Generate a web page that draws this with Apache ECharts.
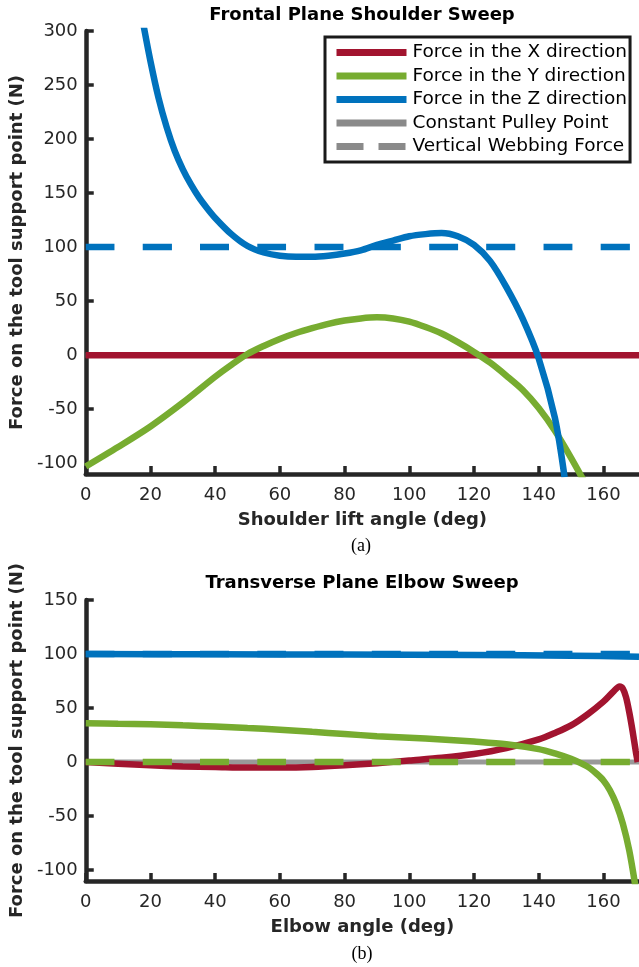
<!DOCTYPE html>
<html>
<head>
<meta charset="utf-8">
<script src="https://cdn.jsdelivr.net/npm/echarts@6/dist/echarts.min.js"></script>
<style>
  html, body { margin: 0; padding: 0; background: #fff; }
  #chart { width: 639px; height: 967px; }
</style>
</head>
<body>
<div id="chart"></div>
<script>
// ---- data ----
// (a) frontal plane shoulder sweep
const shoulderXAngle = [0, 171];
const shoulderXForce = [0, 0];

const shoulderYAngle = [0, 10, 20, 30, 40, 45, 50, 55, 60, 65, 70, 75, 80, 85, 90, 95, 100, 105, 110, 115, 120, 125, 130, 135, 140, 145, 150, 155];
const shoulderYForce = [-103, -85, -66, -44, -20, -9, 1, 8.5, 15, 20.5, 25, 29, 32, 34, 35, 34, 31, 26, 20, 12, 3, -7, -19, -32, -49, -70, -95, -122];

const shoulderZAngle = [17.5, 20, 22.5, 25, 27.5, 30, 32.5, 35, 37.5, 40, 45, 50, 55, 60, 65, 70, 75, 80, 85, 90, 95, 100, 105, 110, 115, 120, 125, 130, 135, 140, 145, 148];
const shoulderZForce = [311, 272, 238, 211, 189, 172, 158, 146, 136, 127, 112, 101, 95, 92, 91, 91, 92, 94, 97, 102, 106, 110, 112, 113, 110, 102, 87, 63, 34, -3, -58, -113];

const shoulderPulleyAngle = [0, 171];
const shoulderPulleyForce = [0, 0];
const shoulderWebbingAngle = [0, 171];
const shoulderWebbingZ = [100, 100];

// (b) transverse plane elbow sweep
const elbowXAngle = [0, 10, 20, 30, 40, 50, 60, 70, 80, 90, 100, 110, 120, 130, 140, 145, 150, 155, 160, 163, 165, 166, 167, 168, 169, 170, 170.6];
const elbowXForce = [0, -1.5, -3, -4, -4.5, -5, -5, -4.5, -3, -1, 1.5, 4, 7.5, 13, 21, 27, 34, 44, 56, 65, 70, 68, 60, 46, 29, 10, 0];

const elbowYAngle = [0, 10, 20, 30, 40, 50, 60, 70, 80, 90, 100, 110, 120, 130, 140, 145, 150, 153, 156, 158, 160, 162, 164, 166, 168, 170];
const elbowYForce = [36, 35.5, 35, 34, 33, 31.5, 30, 28, 26, 24, 22.5, 21, 19, 16.5, 12, 8, 3, -1, -6, -11, -17, -26, -39, -57, -82, -117];

const elbowZAngle = [0, 40, 80, 120, 150, 171];
const elbowZForce = [100, 99.8, 99.5, 99, 98.5, 97.5];

const elbowPulleyAngle = [0, 171];
const elbowPulleyForce = [0, 0];
const elbowWebbingAngle = [0, 171];
const elbowWebbingY = [0, 0];
const elbowWebbingZ = [100, 100];

const xTicks = [0, 20, 40, 60, 80, 100, 120, 140, 160];
const shoulderYTicks = [-100, -50, 0, 50, 100, 150, 200, 250, 300];
const elbowYTicks = [-100, -50, 0, 50, 100, 150];

const RED = '#A2142F', GREEN = '#77AC30', BLUE = '#0072BD', GRAY = '#999999';
const LEGEND_GRAY = '#8a8a8a';
const AXIS = '#262626';
const DASH = [29, 28.2];
const LW = 6.5;

const zip = (xs, ys) => xs.map((x, i) => [x, ys[i]]);

const chartDom = document.getElementById('chart');
const chart = echarts.init(chartDom);

function xAxisFor(gridIndex, name) {
  return {
    type: 'value', gridIndex: gridIndex, min: 0, max: 171,
    name: name, nameLocation: 'middle', nameGap: 37,
    nameTextStyle: { fontFamily: 'DejaVu Sans', fontWeight: 'bold', fontSize: 18, color: AXIS },
    axisLine: { show: true, onZero: false, lineStyle: { color: AXIS, width: 4.5 } },
    axisTick: { show: true, inside: true, length: 8, customValues: xTicks, lineStyle: { color: AXIS, width: 3.5 } },
    axisLabel: { customValues: xTicks, margin: 12, fontFamily: 'DejaVu Sans', fontSize: 18, color: AXIS },
    splitLine: { show: false }
  };
}

function yAxisFor(gridIndex, min, max, ticks) {
  return {
    type: 'value', gridIndex: gridIndex, min: min, max: max,
    name: 'Force on the tool support point (N)', nameLocation: 'middle', nameGap: 58, nameRotate: 90,
    nameTextStyle: { fontFamily: 'DejaVu Sans', fontWeight: 'bold', fontSize: 18, color: AXIS },
    axisLine: { show: true, onZero: false, lineStyle: { color: AXIS, width: 4.5 } },
    axisTick: { show: true, inside: true, length: 8, customValues: ticks, lineStyle: { color: AXIS, width: 3.5 } },
    axisLabel: { customValues: ticks, margin: 8, fontFamily: 'DejaVu Sans', fontSize: 18, color: AXIS },
    splitLine: { show: false }
  };
}

function line(name, data, color, gridIndex, dashed, width) {
  return {
    name: name, type: 'line', xAxisIndex: gridIndex, yAxisIndex: gridIndex,
    data: data, symbol: 'none', smooth: 0.3, silent: true, animation: false,
    lineStyle: { color: color, width: width || LW, type: dashed ? DASH : 'solid', cap: 'butt' },
    itemStyle: { color: color }
  };
}

// legend entry: line sample only, symbol hidden
function legendItem(name, color, type) {
  return {
    name: name,
    itemStyle: { color: color, opacity: 0, borderWidth: 0 },
    lineStyle: { color: color, width: 7, type: type, cap: 'butt', opacity: 1 }
  };
}

const option = {
  animation: false,
  grid: [
    { left: 85, right: 0, top: 31, height: 443 },
    { left: 85, right: 0, top: 600, height: 281 }
  ],
  xAxis: [
    xAxisFor(0, 'Shoulder lift angle (deg)'),
    xAxisFor(1, 'Elbow angle (deg)')
  ],
  yAxis: [
    yAxisFor(0, -110, 300, shoulderYTicks),
    yAxisFor(1, -110, 150, elbowYTicks)
  ],
  legend: {
    left: 325, top: 37, orient: 'vertical',
    backgroundColor: '#fff',
    borderColor: '#1a1a1a', borderWidth: 3,
    padding: [5, 3, 5, 8],
    itemWidth: 70, itemHeight: 14, itemGap: 2.5,
    selectedMode: false,
    textStyle: { fontFamily: 'DejaVu Sans', fontSize: 18.5, color: '#000', lineHeight: 21, padding: [0, 0, 0, 1] },
    data: [
      legendItem('Force in the X direction', RED, 'solid'),
      legendItem('Force in the Y direction', GREEN, 'solid'),
      legendItem('Force in the Z direction', BLUE, 'solid'),
      legendItem('Constant Pulley Point', LEGEND_GRAY, 'solid'),
      legendItem('Vertical Webbing Force', LEGEND_GRAY, [27, 15])
    ]
  },
  graphic: [
    { type: 'text', x: 362, y: 15, style: { text: 'Frontal Plane Shoulder Sweep', font: 'bold 18px "DejaVu Sans"', fill: '#000', align: 'center', verticalAlign: 'middle' } },
    { type: 'text', x: 362, y: 583, style: { text: 'Transverse Plane Elbow Sweep', font: 'bold 18px "DejaVu Sans"', fill: '#000', align: 'center', verticalAlign: 'middle' } },
    { type: 'text', x: 361, y: 546, style: { text: '(a)', font: '18px "Liberation Serif"', fill: '#000', align: 'center', verticalAlign: 'middle' } },
    { type: 'text', x: 362, y: 954, style: { text: '(b)', font: '18px "Liberation Serif"', fill: '#000', align: 'center', verticalAlign: 'middle' } }
  ],
  series: [
    // (a)
    line('Constant Pulley Point', zip(shoulderPulleyAngle, shoulderPulleyForce), GRAY, 0, false, 5),
    line('Force in the X direction', zip(shoulderXAngle, shoulderXForce), RED, 0),
    line('Force in the Y direction', zip(shoulderYAngle, shoulderYForce), GREEN, 0),
    line('Vertical Webbing Force', zip(shoulderWebbingAngle, shoulderWebbingZ), BLUE, 0, true),
    line('Force in the Z direction', zip(shoulderZAngle, shoulderZForce), BLUE, 0),
    // (b)
    line('Constant Pulley Point', zip(elbowPulleyAngle, elbowPulleyForce), GRAY, 1, false, 5),
    line('Force in the X direction', zip(elbowXAngle, elbowXForce), RED, 1),
    line('Force in the Y direction', zip(elbowYAngle, elbowYForce), GREEN, 1),
    line('Vertical Webbing Force', zip(elbowWebbingAngle, elbowWebbingY), GREEN, 1, true),
    line('Force in the Z direction', zip(elbowZAngle, elbowZForce), BLUE, 1),
    line('Vertical Webbing Force', zip(elbowWebbingAngle, elbowWebbingZ), BLUE, 1, true)
  ]
};

chart.setOption(option);
</script>
</body>
</html>
